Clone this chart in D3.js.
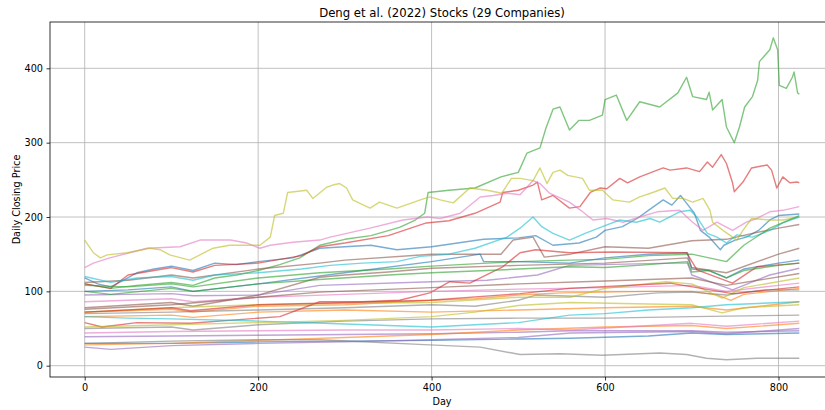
<!DOCTYPE html>
<html>
<head>
<meta charset="UTF-8" />
<title>Deng et al. (2022) Stocks</title>
<script src="https://cdnjs.cloudflare.com/ajax/libs/d3/7.8.5/d3.min.js"></script>
<style>
  body { margin: 0; background: #fff; }
  svg { display: block; font-family: "DejaVu Sans", sans-serif; }
</style>
</head>
<body>
<svg id="chart" width="825" height="410"></svg>
<script>
// each series: [day, closing price]
const blueE   = [[0,118],[15,110],[30,106],[45,115],[60,125],[80,130],[100,134],[125,128],[150,138],[175,136],[200,140],[240,145],[271,158],[300,160],[330,162],[360,156],[400,160],[430,165],[460,170],[500,172],[520,175],[540,162],[570,165],[590,173],[600,182],[620,187],[637,198],[650,209],[667,223],[677,216],[687,229],[693,220],[703,205],[710,182],[720,173],[733,156],[737,162],[750,169],[763,173],[777,182],[790,196],[800,202],[824,204]];
const orange1 = [[0,72],[50,74],[100,76],[125,72],[200,80],[300,82],[400,88],[450,90],[500,95],[550,98],[600,99],[650,100],[700,100],[730,95],[745,88],[760,96],[824,104]];
const greenA  = [[0,110],[30,104],[60,108],[100,112],[125,108],[150,118],[175,122],[200,128],[225,136],[248,145],[271,162],[300,170],[330,175],[363,186],[380,195],[392,205],[396,233],[420,236],[450,239],[480,254],[500,260],[510,286],[525,293],[532,320],[540,345],[548,348],[559,317],[570,330],[582,330],[597,337],[600,358],[613,364],[625,330],[640,355],[663,348],[684,367],[694,388],[701,362],[717,358],[720,368],[724,344],[735,358],[740,321],[749,300],[755,321],[761,348],[770,362],[776,384],[778,409],[790,425],[794,441],[799,425],[801,377],[809,373],[816,388],[818,395],[822,367],[824,365]];
const redB    = [[0,110],[30,104],[50,122],[100,132],[125,126],[150,135],[200,138],[250,148],[271,160],[300,165],[350,175],[394,192],[420,195],[450,205],[479,220],[482,233],[500,236],[517,243],[522,247],[527,223],[540,229],[559,212],[571,214],[583,233],[594,239],[602,238],[617,252],[626,246],[640,254],[667,266],[675,263],[694,266],[709,261],[718,274],[724,267],[734,284],[740,272],[747,246],[749,234],[759,247],[769,266],[787,270],[792,263],[798,239],[805,254],[813,246],[822,247],[824,246]];
const purple1 = [[0,95],[50,96],[100,97],[125,94],[200,95],[271,108],[400,113],[464,115],[522,122],[559,135],[675,138],[695,138],[700,122],[747,102],[790,122],[824,131]];
const brown1  = [[0,112],[50,115],[100,122],[125,118],[200,130],[271,138],[300,142],[400,150],[480,150],[494,169],[517,173],[530,146],[560,150],[600,160],[650,158],[700,168],[740,170],[770,178],[800,185],[824,190]];
const pinkD   = [[0,132],[10,138],[29,145],[72,158],[110,160],[133,169],[168,169],[187,165],[202,158],[214,162],[240,166],[271,169],[283,173],[329,185],[367,196],[395,200],[410,198],[433,205],[456,227],[471,229],[487,232],[502,230],[517,249],[525,245],[536,232],[559,220],[572,209],[586,196],[602,198],[621,193],[640,200],[660,207],[686,209],[701,193],[713,182],[729,193],[747,182],[763,193],[775,198],[790,207],[805,209],[824,214]];
const gray3   = [[0,70],[100,72],[200,75],[300,78],[400,82],[450,80],[500,88],[520,95],[600,92],[660,98],[700,99],[740,95],[783,102],[824,102]];
const oliveC  = [[0,169],[10,152],[18,145],[26,149],[49,152],[75,158],[87,156],[98,149],[121,142],[148,158],[167,162],[190,162],[202,162],[214,173],[219,202],[229,205],[234,233],[256,236],[263,225],[279,240],[286,243],[294,245],[302,239],[309,223],[329,212],[340,220],[360,212],[387,223],[398,227],[410,223],[425,219],[444,239],[464,236],[481,232],[492,252],[502,252],[517,249],[525,266],[533,245],[540,260],[548,263],[557,256],[574,252],[582,236],[597,236],[609,223],[628,220],[640,227],[655,233],[669,239],[678,225],[690,225],[701,220],[713,225],[721,209],[724,193],[736,182],[752,169],[759,182],[769,198],[790,196],[805,196],[824,200]];
const cyanF   = [[0,120],[30,112],[60,118],[100,120],[125,115],[150,122],[200,125],[250,130],[283,135],[320,138],[360,140],[387,147],[420,150],[450,158],[487,173],[502,185],[517,200],[527,187],[540,178],[559,169],[577,178],[597,187],[617,196],[636,193],[652,198],[663,193],[686,207],[698,209],[706,200],[718,178],[729,173],[740,165],[752,176],[770,173],[790,182],[805,192],[824,200]];
const blue2   = [[0,100],[50,102],[100,106],[125,100],[200,110],[300,125],[400,140],[456,150],[460,140],[500,140],[559,138],[600,145],[650,150],[695,152],[700,130],[720,128],[740,118],[760,130],[800,138],[824,142]];
const orange3 = [[0,66],[100,68],[125,65],[200,72],[300,75],[400,72],[500,75],[600,78],[700,80],[740,75],[824,86]];
const green2  = [[0,108],[50,106],[100,110],[125,106],[200,118],[271,125],[350,130],[400,134],[464,138],[500,140],[559,142],[600,143],[650,148],[700,150],[720,145],[740,140],[760,162],[790,185],[824,202]];
const red2    = [[0,58],[20,52],[60,58],[122,57],[225,66],[271,86],[320,86],[363,88],[398,98],[421,113],[444,111],[482,133],[502,152],[520,156],[559,152],[609,153],[694,152],[706,129],[747,111],[775,133],[824,138]];
const purple2 = [[0,39],[100,40],[200,41],[300,42],[400,43],[500,45],[560,47],[700,47],[740,45],[824,47]];
const brown2  = [[0,78],[100,85],[125,80],[200,95],[271,119],[300,122],[350,126],[400,131],[500,135],[600,138],[695,145],[700,132],[740,125],[800,150],[824,158]];
const pink2   = [[0,86],[50,88],[100,90],[125,86],[200,92],[300,96],[400,100],[500,103],[600,105],[700,108],[740,100],[800,108],[824,111]];
const gray2   = [[0,50],[100,52],[125,48],[200,55],[300,60],[400,63],[500,64],[600,64],[700,66],[824,68]];
const olive3  = [[0,72],[100,78],[200,82],[300,84],[400,85],[500,92],[560,92],[600,104],[670,113],[700,110],[735,91],[760,105],[824,118]];
const cyan2   = [[0,66],[50,64],[100,63],[200,60],[300,56],[400,52],[450,55],[500,58],[559,68],[600,70],[650,75],[700,78],[740,82],[824,86]];
const blue3   = [[0,30],[100,30],[200,32],[300,33],[400,34],[500,36],[560,37],[650,40],[700,44],[740,42],[824,44]];
const orange2 = [[0,28],[100,30],[200,34],[300,38],[400,42],[500,48],[600,52],[700,54],[740,50],[824,57]];
const green3  = [[0,100],[30,96],[100,104],[125,100],[200,110],[271,116],[350,122],[400,125],[464,128],[500,130],[559,133],[600,132],[650,136],[695,140],[700,126],[720,128],[740,118],[760,128],[800,135],[824,138]];
const red3    = [[0,72],[100,78],[122,74],[200,82],[271,84],[398,88],[502,97],[559,104],[675,111],[747,97],[824,106]];
const purple3 = [[0,25],[30,22],[100,27],[200,30],[300,32],[400,35],[500,38],[560,44],[700,46],[740,43],[824,50]];
const brown3  = [[0,76],[100,82],[200,92],[271,99],[400,105],[500,110],[600,114],[700,118],[740,108],[824,124]];
const pink3   = [[0,44],[100,46],[200,47],[300,48],[400,48],[500,50],[560,48],[700,57],[740,53],[824,60]];
const gray1   = [[0,30],[100,33],[200,35],[271,35],[398,28],[456,25],[502,15],[548,16],[597,14],[663,17],[694,15],[717,10],[740,8],[775,10],[824,10]];
const olive2  = [[0,52],[100,55],[200,58],[300,61],[400,66],[450,72],[500,81],[560,85],[650,83],[700,82],[735,71],[760,78],[824,82]];

const series = [blueE, orange1, greenA, redB, purple1, brown1, pinkD, gray3, oliveC, cyanF,
                blue2, orange3, green2, red2, purple2, brown2, pink2, gray2, olive3, cyan2,
                blue3, orange2, green3, red3, purple3, brown3, pink3, gray1, olive2];

const xTicks = [0, 200, 400, 600, 800];
const yTicks = [0, 100, 200, 300, 400];

const palette = ["#1f77b4","#ff7f0e","#2ca02c","#d62728","#9467bd",
                 "#8c564b","#e377c2","#7f7f7f","#bcbd22","#17becf"];

const svg = d3.select("#chart");
const padL = 50, padR = 834, padT = 22, padB = 377;

const x = d3.scaleLinear().domain([-40, 864]).range([padL, padR]);
const y = d3.scaleLinear().domain([-15.2, 462.3]).range([padB, padT]);

// grid
svg.append("g").selectAll("line").data(xTicks).join("line")
  .attr("x1", d => x(d)).attr("x2", d => x(d))
  .attr("y1", padT).attr("y2", padB)
  .attr("stroke", "#b0b0b0").attr("stroke-width", 0.8);
svg.append("g").selectAll("line").data(yTicks).join("line")
  .attr("x1", padL).attr("x2", padR)
  .attr("y1", d => y(d)).attr("y2", d => y(d))
  .attr("stroke", "#b0b0b0").attr("stroke-width", 0.8);

// lines
const line = d3.line().x(d => x(d[0])).y(d => y(d[1]));
svg.append("g").selectAll("path").data(series).join("path")
  .attr("d", line)
  .attr("fill", "none")
  .attr("stroke", (d, i) => palette[i % 10])
  .attr("stroke-opacity", 0.6)
  .attr("stroke-width", 1.4)
  .attr("stroke-linejoin", "round");

// axes
const gx = svg.append("g").attr("transform", `translate(0,${padB})`)
  .call(d3.axisBottom(x).tickValues(xTicks).tickSize(3.5).tickPadding(3.5));
const gy = svg.append("g").attr("transform", `translate(${padL},0)`)
  .call(d3.axisLeft(y).tickValues(yTicks).tickSize(3.5).tickPadding(3.5));
[gx, gy].forEach(g => {
  g.select(".domain").remove();
  g.attr("font-family", "DejaVu Sans, sans-serif").attr("font-size", 9.7);
  g.selectAll("line").attr("stroke", "#000").attr("stroke-width", 0.8);
  g.selectAll("text").attr("fill", "#000");
});

// spines
svg.append("rect")
  .attr("x", padL).attr("y", padT)
  .attr("width", padR - padL).attr("height", padB - padT)
  .attr("fill", "none").attr("stroke", "#000").attr("stroke-width", 0.8);

// labels
svg.append("text").attr("x", 442).attr("y", 16.5)
  .attr("text-anchor", "middle").attr("font-size", 11.7)
  .text("Deng et al. (2022) Stocks (29 Companies)");
svg.append("text").attr("x", 442).attr("y", 404.5)
  .attr("text-anchor", "middle").attr("font-size", 9.7)
  .text("Day");
svg.append("text").attr("transform", "translate(19.5,199.5) rotate(-90)")
  .attr("text-anchor", "middle").attr("font-size", 9.7)
  .text("Daily Closing Price");
</script>
</body>
</html>
